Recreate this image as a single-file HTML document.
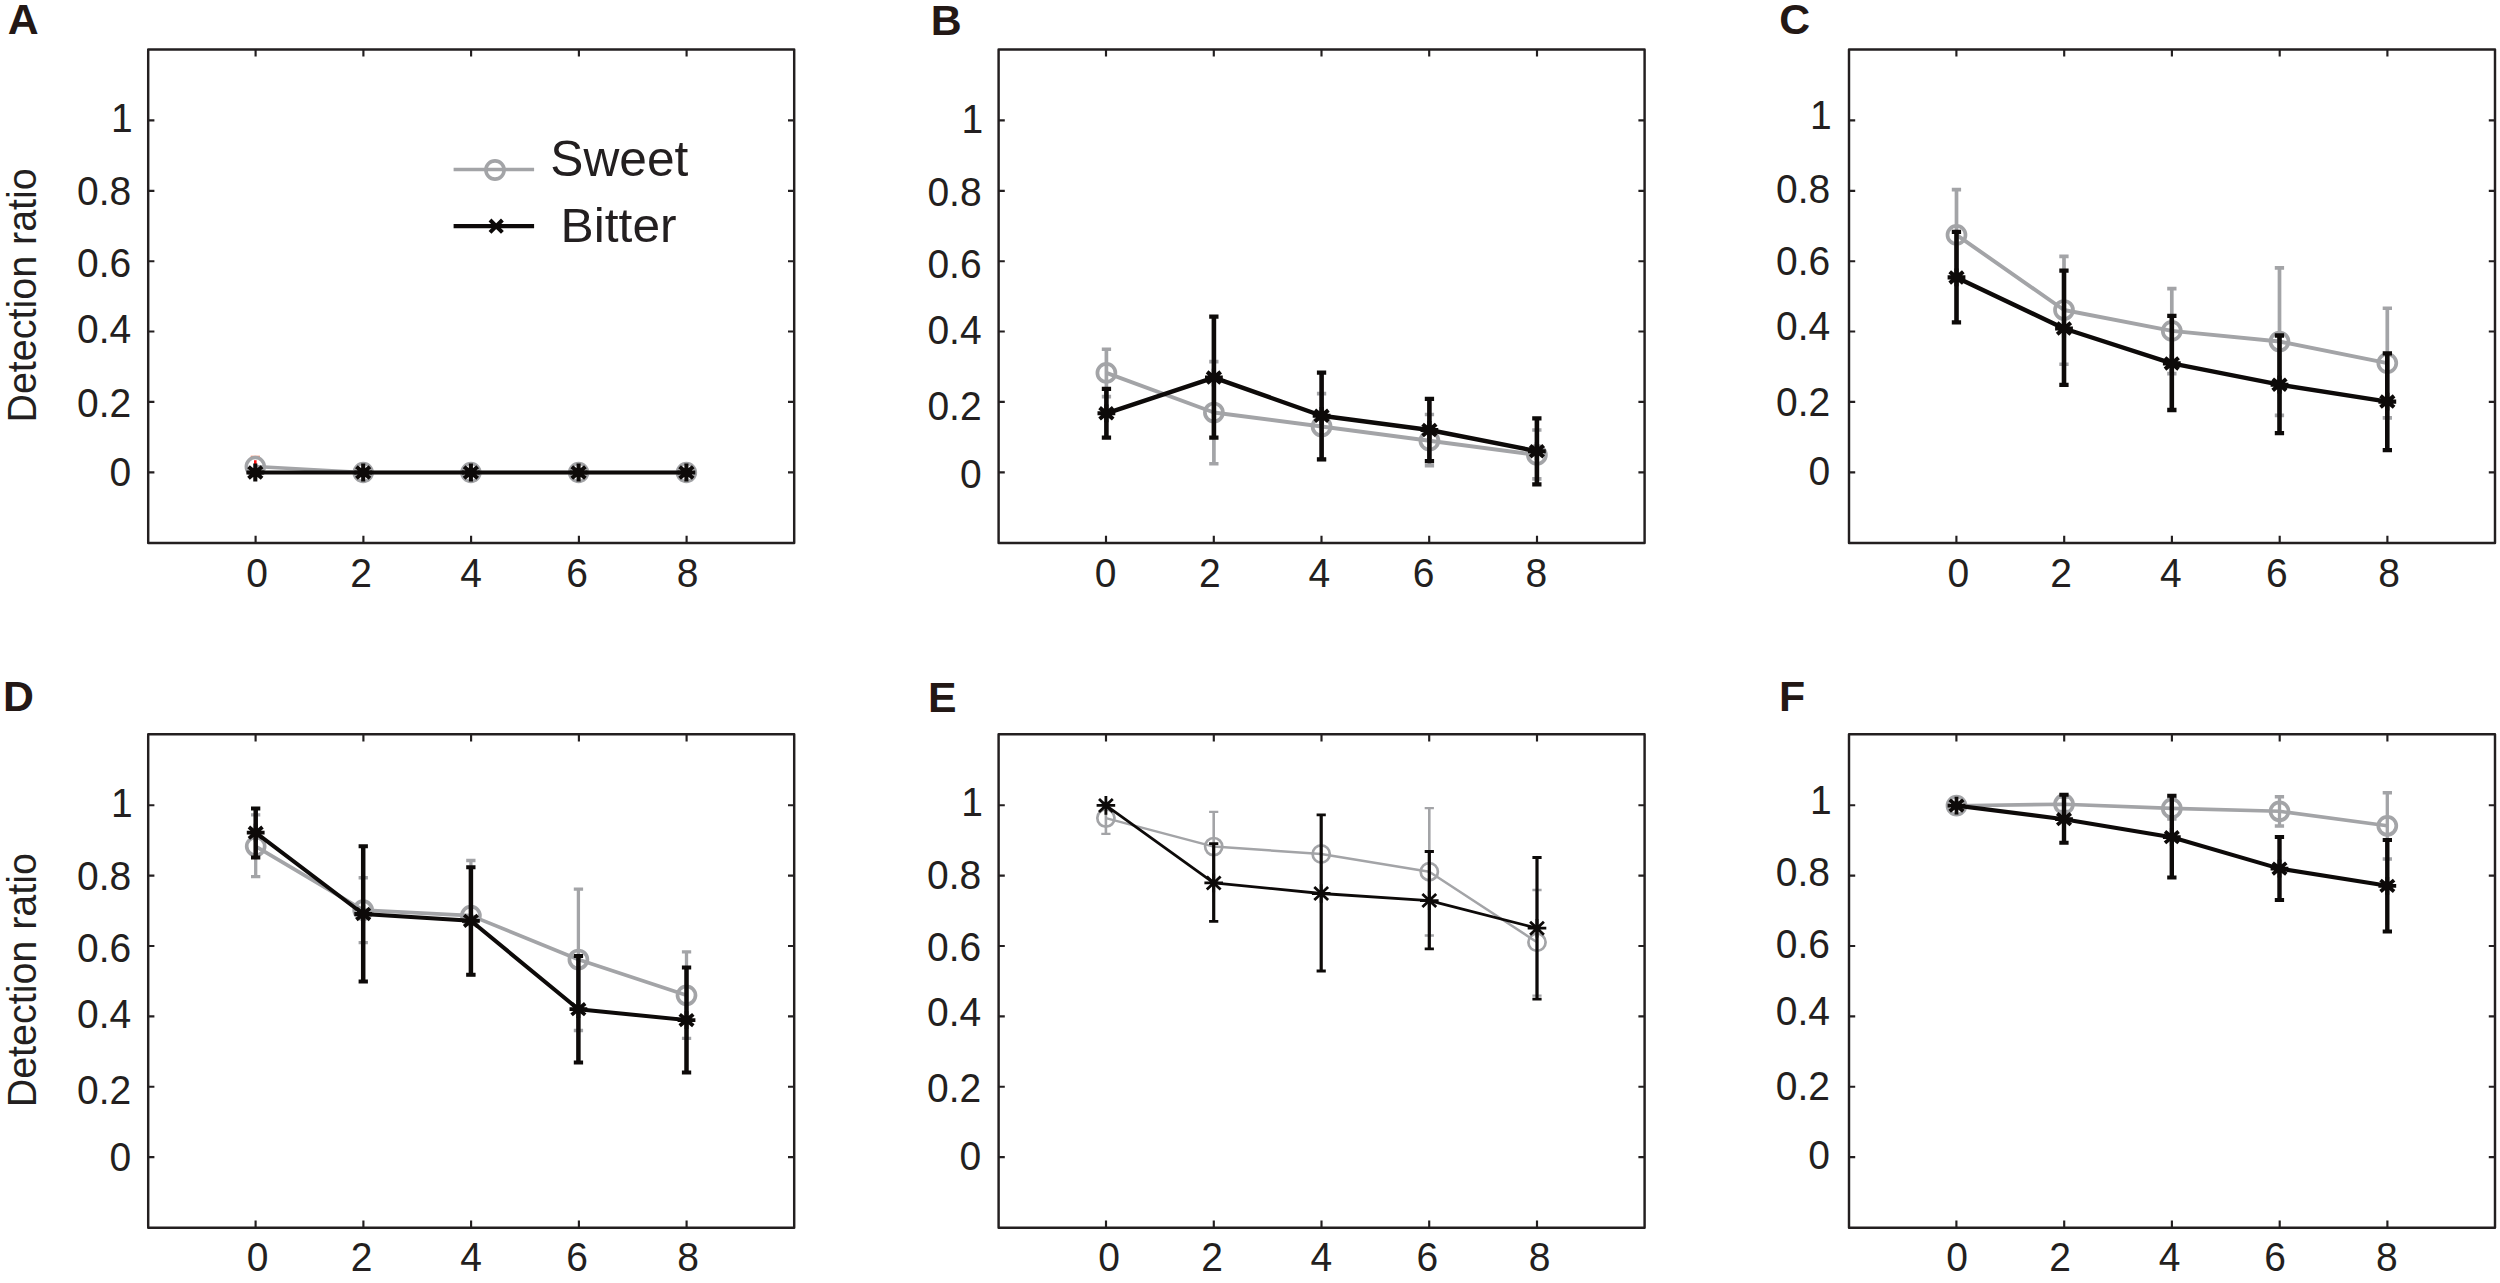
<!DOCTYPE html>
<html lang="en"><head><meta charset="utf-8"><title>Detection ratio – Sweet vs Bitter</title>
<style>html,body{margin:0;padding:0;background:#fff}svg{display:block}</style></head>
<body>
<svg width="2500" height="1283" viewBox="0 0 2500 1283" font-family="'Liberation Sans', Arial, Helvetica, sans-serif" font-size="39.0" fill="#231f20">
<rect width="2500" height="1283" fill="#fff"/>
<rect x="148.2" y="49.4" width="646.0" height="493.6" fill="none" stroke="#231f20" stroke-width="2.45" stroke-linejoin="round"/>
<path d="M255.6 543.0v-7.2M255.6 49.4v7.2M363.4 543.0v-7.2M363.4 49.4v7.2M471.1 543.0v-7.2M471.1 49.4v7.2M578.9 543.0v-7.2M578.9 49.4v7.2M686.6 543.0v-7.2M686.6 49.4v7.2M148.2 472.3h6.2M794.2 472.3h-6.2M148.2 401.9h6.2M794.2 401.9h-6.2M148.2 331.5h6.2M794.2 331.5h-6.2M148.2 261.2h6.2M794.2 261.2h-6.2M148.2 190.8h6.2M794.2 190.8h-6.2M148.2 120.4h6.2M794.2 120.4h-6.2" fill="none" stroke="#231f20" stroke-width="2.15"/>
<text transform="translate(257.2 586.9) scale(1.0 1.05)" text-anchor="middle">0</text>
<text transform="translate(361.0 586.9) scale(1.0 1.05)" text-anchor="middle">2</text>
<text transform="translate(471.1 586.9) scale(1.0 1.05)" text-anchor="middle">4</text>
<text transform="translate(577.0 586.9) scale(1.0 1.05)" text-anchor="middle">6</text>
<text transform="translate(687.7 586.9) scale(1.0 1.05)" text-anchor="middle">8</text>
<text transform="translate(131.2 485.6) scale(1.0 1.05)" text-anchor="end">0</text>
<text transform="translate(131.2 417.2) scale(1.0 1.05)" text-anchor="end">0.2</text>
<text transform="translate(131.2 342.9) scale(1.0 1.05)" text-anchor="end">0.4</text>
<text transform="translate(131.2 276.7) scale(1.0 1.05)" text-anchor="end">0.6</text>
<text transform="translate(131.2 204.8) scale(1.0 1.05)" text-anchor="end">0.8</text>
<text transform="translate(132.8 131.8) scale(1.0 1.05)" text-anchor="end">1</text>
<rect x="998.6" y="49.4" width="646.0" height="493.6" fill="none" stroke="#231f20" stroke-width="2.45" stroke-linejoin="round"/>
<path d="M1106.0 543.0v-7.2M1106.0 49.4v7.2M1213.8 543.0v-7.2M1213.8 49.4v7.2M1321.5 543.0v-7.2M1321.5 49.4v7.2M1429.2 543.0v-7.2M1429.2 49.4v7.2M1537.0 543.0v-7.2M1537.0 49.4v7.2M998.6 472.3h6.2M1644.6 472.3h-6.2M998.6 401.9h6.2M1644.6 401.9h-6.2M998.6 331.5h6.2M1644.6 331.5h-6.2M998.6 261.2h6.2M1644.6 261.2h-6.2M998.6 190.8h6.2M1644.6 190.8h-6.2M998.6 120.4h6.2M1644.6 120.4h-6.2" fill="none" stroke="#231f20" stroke-width="2.15"/>
<text transform="translate(1105.6 586.9) scale(1.0 1.05)" text-anchor="middle">0</text>
<text transform="translate(1209.8 586.9) scale(1.0 1.05)" text-anchor="middle">2</text>
<text transform="translate(1319.4 586.9) scale(1.0 1.05)" text-anchor="middle">4</text>
<text transform="translate(1423.7 586.9) scale(1.0 1.05)" text-anchor="middle">6</text>
<text transform="translate(1536.4 586.9) scale(1.0 1.05)" text-anchor="middle">8</text>
<text transform="translate(981.6 488.1) scale(1.0 1.05)" text-anchor="end">0</text>
<text transform="translate(981.6 419.7) scale(1.0 1.05)" text-anchor="end">0.2</text>
<text transform="translate(981.6 343.7) scale(1.0 1.05)" text-anchor="end">0.4</text>
<text transform="translate(981.6 277.8) scale(1.0 1.05)" text-anchor="end">0.6</text>
<text transform="translate(981.6 205.9) scale(1.0 1.05)" text-anchor="end">0.8</text>
<text transform="translate(983.2 133.4) scale(1.0 1.05)" text-anchor="end">1</text>
<rect x="1849.0" y="49.4" width="646.0" height="493.6" fill="none" stroke="#231f20" stroke-width="2.45" stroke-linejoin="round"/>
<path d="M1956.4 543.0v-7.2M1956.4 49.4v7.2M2064.2 543.0v-7.2M2064.2 49.4v7.2M2171.9 543.0v-7.2M2171.9 49.4v7.2M2279.7 543.0v-7.2M2279.7 49.4v7.2M2387.4 543.0v-7.2M2387.4 49.4v7.2M1849.0 472.3h6.2M2495.0 472.3h-6.2M1849.0 401.9h6.2M2495.0 401.9h-6.2M1849.0 331.5h6.2M2495.0 331.5h-6.2M1849.0 261.2h6.2M2495.0 261.2h-6.2M1849.0 190.8h6.2M2495.0 190.8h-6.2M1849.0 120.4h6.2M2495.0 120.4h-6.2" fill="none" stroke="#231f20" stroke-width="2.15"/>
<text transform="translate(1958.3 586.9) scale(1.0 1.05)" text-anchor="middle">0</text>
<text transform="translate(2061.2 586.9) scale(1.0 1.05)" text-anchor="middle">2</text>
<text transform="translate(2170.9 586.9) scale(1.0 1.05)" text-anchor="middle">4</text>
<text transform="translate(2276.8 586.9) scale(1.0 1.05)" text-anchor="middle">6</text>
<text transform="translate(2389.0 586.9) scale(1.0 1.05)" text-anchor="middle">8</text>
<text transform="translate(1830.2 484.8) scale(1.0 1.05)" text-anchor="end">0</text>
<text transform="translate(1830.2 416.4) scale(1.0 1.05)" text-anchor="end">0.2</text>
<text transform="translate(1830.2 340.4) scale(1.0 1.05)" text-anchor="end">0.4</text>
<text transform="translate(1830.2 275.4) scale(1.0 1.05)" text-anchor="end">0.6</text>
<text transform="translate(1830.2 203.2) scale(1.0 1.05)" text-anchor="end">0.8</text>
<text transform="translate(1831.8 129.3) scale(1.0 1.05)" text-anchor="end">1</text>
<rect x="148.2" y="734.2" width="646.0" height="493.6" fill="none" stroke="#231f20" stroke-width="2.45" stroke-linejoin="round"/>
<path d="M255.6 1227.8v-7.2M255.6 734.2v7.2M363.4 1227.8v-7.2M363.4 734.2v7.2M471.1 1227.8v-7.2M471.1 734.2v7.2M578.9 1227.8v-7.2M578.9 734.2v7.2M686.6 1227.8v-7.2M686.6 734.2v7.2M148.2 1157.1h6.2M794.2 1157.1h-6.2M148.2 1086.7h6.2M794.2 1086.7h-6.2M148.2 1016.3h6.2M794.2 1016.3h-6.2M148.2 946.0h6.2M794.2 946.0h-6.2M148.2 875.6h6.2M794.2 875.6h-6.2M148.2 805.2h6.2M794.2 805.2h-6.2" fill="none" stroke="#231f20" stroke-width="2.15"/>
<text transform="translate(257.7 1271.3) scale(1.0 1.05)" text-anchor="middle">0</text>
<text transform="translate(361.7 1271.3) scale(1.0 1.05)" text-anchor="middle">2</text>
<text transform="translate(471.2 1271.3) scale(1.0 1.05)" text-anchor="middle">4</text>
<text transform="translate(577.2 1271.3) scale(1.0 1.05)" text-anchor="middle">6</text>
<text transform="translate(688.0 1271.3) scale(1.0 1.05)" text-anchor="middle">8</text>
<text transform="translate(131.2 1171.1) scale(1.0 1.05)" text-anchor="end">0</text>
<text transform="translate(131.2 1103.8) scale(1.0 1.05)" text-anchor="end">0.2</text>
<text transform="translate(131.2 1028.2) scale(1.0 1.05)" text-anchor="end">0.4</text>
<text transform="translate(131.2 961.5) scale(1.0 1.05)" text-anchor="end">0.6</text>
<text transform="translate(131.2 889.9) scale(1.0 1.05)" text-anchor="end">0.8</text>
<text transform="translate(132.8 816.9) scale(1.0 1.05)" text-anchor="end">1</text>
<rect x="998.6" y="734.2" width="646.0" height="493.6" fill="none" stroke="#231f20" stroke-width="2.45" stroke-linejoin="round"/>
<path d="M1106.0 1227.8v-7.2M1106.0 734.2v7.2M1213.8 1227.8v-7.2M1213.8 734.2v7.2M1321.5 1227.8v-7.2M1321.5 734.2v7.2M1429.2 1227.8v-7.2M1429.2 734.2v7.2M1537.0 1227.8v-7.2M1537.0 734.2v7.2M998.6 1157.1h6.2M1644.6 1157.1h-6.2M998.6 1086.7h6.2M1644.6 1086.7h-6.2M998.6 1016.3h6.2M1644.6 1016.3h-6.2M998.6 946.0h6.2M1644.6 946.0h-6.2M998.6 875.6h6.2M1644.6 875.6h-6.2M998.6 805.2h6.2M1644.6 805.2h-6.2" fill="none" stroke="#231f20" stroke-width="2.15"/>
<text transform="translate(1109.0 1271.3) scale(1.0 1.05)" text-anchor="middle">0</text>
<text transform="translate(1212.2 1271.3) scale(1.0 1.05)" text-anchor="middle">2</text>
<text transform="translate(1321.4 1271.3) scale(1.0 1.05)" text-anchor="middle">4</text>
<text transform="translate(1427.3 1271.3) scale(1.0 1.05)" text-anchor="middle">6</text>
<text transform="translate(1539.6 1271.3) scale(1.0 1.05)" text-anchor="middle">8</text>
<text transform="translate(981.3 1169.8) scale(1.0 1.05)" text-anchor="end">0</text>
<text transform="translate(981.3 1101.5) scale(1.0 1.05)" text-anchor="end">0.2</text>
<text transform="translate(981.3 1025.7) scale(1.0 1.05)" text-anchor="end">0.4</text>
<text transform="translate(981.3 960.7) scale(1.0 1.05)" text-anchor="end">0.6</text>
<text transform="translate(981.3 888.6) scale(1.0 1.05)" text-anchor="end">0.8</text>
<text transform="translate(982.9 816.1) scale(1.0 1.05)" text-anchor="end">1</text>
<rect x="1849.0" y="734.2" width="646.0" height="493.6" fill="none" stroke="#231f20" stroke-width="2.45" stroke-linejoin="round"/>
<path d="M1956.4 1227.8v-7.2M1956.4 734.2v7.2M2064.2 1227.8v-7.2M2064.2 734.2v7.2M2171.9 1227.8v-7.2M2171.9 734.2v7.2M2279.7 1227.8v-7.2M2279.7 734.2v7.2M2387.4 1227.8v-7.2M2387.4 734.2v7.2M1849.0 1157.1h6.2M2495.0 1157.1h-6.2M1849.0 1086.7h6.2M2495.0 1086.7h-6.2M1849.0 1016.3h6.2M2495.0 1016.3h-6.2M1849.0 946.0h6.2M2495.0 946.0h-6.2M1849.0 875.6h6.2M2495.0 875.6h-6.2M1849.0 805.2h6.2M2495.0 805.2h-6.2" fill="none" stroke="#231f20" stroke-width="2.15"/>
<text transform="translate(1957.0 1271.3) scale(1.0 1.05)" text-anchor="middle">0</text>
<text transform="translate(2060.0 1271.3) scale(1.0 1.05)" text-anchor="middle">2</text>
<text transform="translate(2169.6 1271.3) scale(1.0 1.05)" text-anchor="middle">4</text>
<text transform="translate(2275.1 1271.3) scale(1.0 1.05)" text-anchor="middle">6</text>
<text transform="translate(2386.8 1271.3) scale(1.0 1.05)" text-anchor="middle">8</text>
<text transform="translate(1830.0 1168.5) scale(1.0 1.05)" text-anchor="end">0</text>
<text transform="translate(1830.0 1100.2) scale(1.0 1.05)" text-anchor="end">0.2</text>
<text transform="translate(1830.0 1024.6) scale(1.0 1.05)" text-anchor="end">0.4</text>
<text transform="translate(1830.0 958.0) scale(1.0 1.05)" text-anchor="end">0.6</text>
<text transform="translate(1830.0 886.3) scale(1.0 1.05)" text-anchor="end">0.8</text>
<text transform="translate(1831.6 813.6) scale(1.0 1.05)" text-anchor="end">1</text>
<text transform="translate(7.8 34.1)" font-size="42.8" font-weight="bold" fill="#231815">A</text>
<text transform="translate(930.8 34.5)" font-size="42.8" font-weight="bold" fill="#231815">B</text>
<text transform="translate(1779.2 34.3)" font-size="42.8" font-weight="bold" fill="#231815">C</text>
<text transform="translate(3.1 711.2)" font-size="42.8" font-weight="bold" fill="#231815">D</text>
<text transform="translate(928.0 711.6)" font-size="42.8" font-weight="bold" fill="#231815">E</text>
<text transform="translate(1779.1 711.2)" font-size="42.8" font-weight="bold" fill="#231815">F</text>
<text transform="translate(36.1 295.4) rotate(-90) scale(1 1.03)" text-anchor="middle" font-size="39.45">Detection ratio</text>
<text transform="translate(36.1 980.2) rotate(-90) scale(1 1.03)" text-anchor="middle" font-size="39.45">Detection ratio</text>
<path d="M453.6 169.5H534.1" stroke="#a3a4a7" stroke-width="3.6"/>
<circle cx="495.0" cy="170.0" r="9.1" fill="none" stroke="#a3a4a7" stroke-width="3.6"/>
<path d="M453.6 226.1H534.1" stroke="#0d0a09" stroke-width="4.1"/>
<path d="M490.0 220.0l12.4 12.4M490.0 232.4l12.4 -12.4" stroke="#0d0a09" stroke-width="4.0" fill="none"/>
<text transform="translate(550.3 176.3) scale(1.0 1.005)" font-size="49.7">Sweet</text>
<text transform="translate(560.6 242.3) scale(1.0 0.985)" font-size="49.7">Bitter</text>
<polyline points="255.3,466.6 363.2,472.5 470.9,472.5 578.6,472.5 686.4,472.5" fill="none" stroke="#a3a4a7" stroke-width="3.5" stroke-linejoin="round"/>
<path d="M250.7 456.3h9.2" stroke="#f58466" stroke-width="1.2"/>
<circle cx="255.3" cy="466.6" r="9.0" fill="none" stroke="#a3a4a7" stroke-width="3.5"/>
<circle cx="363.2" cy="472.5" r="9.0" fill="none" stroke="#a3a4a7" stroke-width="3.5"/>
<circle cx="470.9" cy="472.5" r="9.0" fill="none" stroke="#a3a4a7" stroke-width="3.5"/>
<circle cx="578.6" cy="472.5" r="9.0" fill="none" stroke="#a3a4a7" stroke-width="3.5"/>
<circle cx="686.4" cy="472.5" r="9.0" fill="none" stroke="#a3a4a7" stroke-width="3.5"/>
<path d="M255.3 460.2V464.6" stroke="#ff1414" stroke-width="2.6"/>
<polyline points="255.3,472.5 363.2,472.5 470.9,472.5 578.6,472.5 686.4,472.5" fill="none" stroke="#0d0a09" stroke-width="4.2" stroke-linejoin="round"/>
<path d="M246.4 472.5h17.8M255.3 463.6v17.8M248.5 466.8l13.6 11.4M248.5 478.2l13.6 -11.4" stroke="#0d0a09" stroke-width="4.1" fill="none"/>
<path d="M354.3 472.5h17.8M363.2 463.6v17.8M356.4 466.8l13.6 11.4M356.4 478.2l13.6 -11.4" stroke="#0d0a09" stroke-width="4.1" fill="none"/>
<path d="M462.0 472.5h17.8M470.9 463.6v17.8M464.1 466.8l13.6 11.4M464.1 478.2l13.6 -11.4" stroke="#0d0a09" stroke-width="4.1" fill="none"/>
<path d="M569.7 472.5h17.8M578.6 463.6v17.8M571.8 466.8l13.6 11.4M571.8 478.2l13.6 -11.4" stroke="#0d0a09" stroke-width="4.1" fill="none"/>
<path d="M677.5 472.5h17.8M686.4 463.6v17.8M679.6 466.8l13.6 11.4M679.6 478.2l13.6 -11.4" stroke="#0d0a09" stroke-width="4.1" fill="none"/>
<path d="M1106.4 349.2V396.6" stroke="#a3a4a7" stroke-width="3.7" fill="none"/>
<path d="M1101.8 349.2h9.3M1101.8 396.6h9.3" stroke="#a3a4a7" stroke-width="3.6" fill="none"/>
<path d="M1213.9 361.6V463.7" stroke="#a3a4a7" stroke-width="3.7" fill="none"/>
<path d="M1209.2 361.6h9.3M1209.2 463.7h9.3" stroke="#a3a4a7" stroke-width="3.6" fill="none"/>
<path d="M1321.6 393.6V459.4" stroke="#a3a4a7" stroke-width="3.7" fill="none"/>
<path d="M1316.9 393.6h9.3M1316.9 459.4h9.3" stroke="#a3a4a7" stroke-width="3.6" fill="none"/>
<path d="M1429.4 414.5V465.6" stroke="#a3a4a7" stroke-width="3.7" fill="none"/>
<path d="M1424.8 414.5h9.3M1424.8 465.6h9.3" stroke="#a3a4a7" stroke-width="3.6" fill="none"/>
<path d="M1536.9 430.0V478.9" stroke="#a3a4a7" stroke-width="3.7" fill="none"/>
<path d="M1532.2 430.0h9.3M1532.2 478.9h9.3" stroke="#a3a4a7" stroke-width="3.6" fill="none"/>
<polyline points="1106.4,372.9 1213.9,412.5 1321.6,426.5 1429.4,440.7 1536.9,454.9" fill="none" stroke="#a3a4a7" stroke-width="3.9" stroke-linejoin="round"/>
<circle cx="1106.4" cy="372.9" r="9.0" fill="none" stroke="#a3a4a7" stroke-width="3.7"/>
<circle cx="1213.9" cy="412.5" r="9.0" fill="none" stroke="#a3a4a7" stroke-width="3.7"/>
<circle cx="1321.6" cy="426.5" r="9.0" fill="none" stroke="#a3a4a7" stroke-width="3.7"/>
<circle cx="1429.4" cy="440.7" r="9.0" fill="none" stroke="#a3a4a7" stroke-width="3.7"/>
<circle cx="1536.9" cy="454.9" r="9.0" fill="none" stroke="#a3a4a7" stroke-width="3.7"/>
<path d="M1106.4 388.8V437.7" stroke="#0d0a09" stroke-width="4.6" fill="none"/>
<path d="M1101.8 388.8h9.3M1101.8 437.7h9.3" stroke="#0d0a09" stroke-width="4.3" fill="none"/>
<path d="M1213.9 316.7V437.7" stroke="#0d0a09" stroke-width="4.6" fill="none"/>
<path d="M1209.2 316.7h9.3M1209.2 437.7h9.3" stroke="#0d0a09" stroke-width="4.3" fill="none"/>
<path d="M1321.6 372.6V459.4" stroke="#0d0a09" stroke-width="4.6" fill="none"/>
<path d="M1316.9 372.6h9.3M1316.9 459.4h9.3" stroke="#0d0a09" stroke-width="4.3" fill="none"/>
<path d="M1429.4 398.8V461.2" stroke="#0d0a09" stroke-width="4.6" fill="none"/>
<path d="M1424.8 398.8h9.3M1424.8 461.2h9.3" stroke="#0d0a09" stroke-width="4.3" fill="none"/>
<path d="M1536.9 418.3V484.4" stroke="#0d0a09" stroke-width="4.6" fill="none"/>
<path d="M1532.2 418.3h9.3M1532.2 484.4h9.3" stroke="#0d0a09" stroke-width="4.3" fill="none"/>
<polyline points="1106.4,413.3 1213.9,377.6 1321.6,415.8 1429.4,430.0 1536.9,451.2" fill="none" stroke="#0d0a09" stroke-width="4.4" stroke-linejoin="round"/>
<path d="M1097.5 413.3h17.8M1106.4 404.4v17.8M1099.6 407.6l13.6 11.4M1099.6 419.0l13.6 -11.4" stroke="#0d0a09" stroke-width="4.1" fill="none"/>
<path d="M1205.0 377.6h17.8M1213.9 368.7v17.8M1207.1 371.9l13.6 11.4M1207.1 383.3l13.6 -11.4" stroke="#0d0a09" stroke-width="4.1" fill="none"/>
<path d="M1312.7 415.8h17.8M1321.6 406.9v17.8M1314.8 410.1l13.6 11.4M1314.8 421.5l13.6 -11.4" stroke="#0d0a09" stroke-width="4.1" fill="none"/>
<path d="M1420.5 430.0h17.8M1429.4 421.1v17.8M1422.6 424.3l13.6 11.4M1422.6 435.7l13.6 -11.4" stroke="#0d0a09" stroke-width="4.1" fill="none"/>
<path d="M1528.0 451.2h17.8M1536.9 442.3v17.8M1530.1 445.5l13.6 11.4M1530.1 456.9l13.6 -11.4" stroke="#0d0a09" stroke-width="4.1" fill="none"/>
<path d="M1956.5 189.6V280.2" stroke="#a3a4a7" stroke-width="3.7" fill="none"/>
<path d="M1951.8 189.6h9.3M1951.8 280.2h9.3" stroke="#a3a4a7" stroke-width="3.6" fill="none"/>
<path d="M2064.0 256.4V364.2" stroke="#a3a4a7" stroke-width="3.7" fill="none"/>
<path d="M2059.3 256.4h9.3M2059.3 364.2h9.3" stroke="#a3a4a7" stroke-width="3.6" fill="none"/>
<path d="M2171.8 288.6V373.6" stroke="#a3a4a7" stroke-width="3.7" fill="none"/>
<path d="M2167.2 288.6h9.3M2167.2 373.6h9.3" stroke="#a3a4a7" stroke-width="3.6" fill="none"/>
<path d="M2279.5 267.9V415.4" stroke="#a3a4a7" stroke-width="3.7" fill="none"/>
<path d="M2274.8 267.9h9.3M2274.8 415.4h9.3" stroke="#a3a4a7" stroke-width="3.6" fill="none"/>
<path d="M2387.3 308.3V417.9" stroke="#a3a4a7" stroke-width="3.7" fill="none"/>
<path d="M2382.7 308.3h9.3M2382.7 417.9h9.3" stroke="#a3a4a7" stroke-width="3.6" fill="none"/>
<polyline points="1956.5,234.9 2064.0,310.0 2171.8,330.9 2279.5,341.5 2387.3,363.1" fill="none" stroke="#a3a4a7" stroke-width="3.9" stroke-linejoin="round"/>
<circle cx="1956.5" cy="234.9" r="9.0" fill="none" stroke="#a3a4a7" stroke-width="3.7"/>
<circle cx="2064.0" cy="310.0" r="9.0" fill="none" stroke="#a3a4a7" stroke-width="3.7"/>
<circle cx="2171.8" cy="330.9" r="9.0" fill="none" stroke="#a3a4a7" stroke-width="3.7"/>
<circle cx="2279.5" cy="341.5" r="9.0" fill="none" stroke="#a3a4a7" stroke-width="3.7"/>
<circle cx="2387.3" cy="363.1" r="9.0" fill="none" stroke="#a3a4a7" stroke-width="3.7"/>
<path d="M1956.5 231.9V322.4" stroke="#0d0a09" stroke-width="4.6" fill="none"/>
<path d="M1951.8 231.9h9.3M1951.8 322.4h9.3" stroke="#0d0a09" stroke-width="4.3" fill="none"/>
<path d="M2064.0 270.7V384.9" stroke="#0d0a09" stroke-width="4.6" fill="none"/>
<path d="M2059.3 270.7h9.3M2059.3 384.9h9.3" stroke="#0d0a09" stroke-width="4.3" fill="none"/>
<path d="M2171.8 315.9V410.0" stroke="#0d0a09" stroke-width="4.6" fill="none"/>
<path d="M2167.2 315.9h9.3M2167.2 410.0h9.3" stroke="#0d0a09" stroke-width="4.3" fill="none"/>
<path d="M2279.5 335.5V433.2" stroke="#0d0a09" stroke-width="4.6" fill="none"/>
<path d="M2274.8 335.5h9.3M2274.8 433.2h9.3" stroke="#0d0a09" stroke-width="4.3" fill="none"/>
<path d="M2387.3 353.3V450.1" stroke="#0d0a09" stroke-width="4.6" fill="none"/>
<path d="M2382.7 353.3h9.3M2382.7 450.1h9.3" stroke="#0d0a09" stroke-width="4.3" fill="none"/>
<polyline points="1956.5,277.4 2064.0,328.5 2171.8,363.4 2279.5,384.7 2387.3,401.6" fill="none" stroke="#0d0a09" stroke-width="4.4" stroke-linejoin="round"/>
<path d="M1947.6 277.4h17.8M1956.5 268.5v17.8M1949.7 271.7l13.6 11.4M1949.7 283.1l13.6 -11.4" stroke="#0d0a09" stroke-width="4.1" fill="none"/>
<path d="M2055.1 328.5h17.8M2064.0 319.6v17.8M2057.2 322.8l13.6 11.4M2057.2 334.2l13.6 -11.4" stroke="#0d0a09" stroke-width="4.1" fill="none"/>
<path d="M2162.9 363.4h17.8M2171.8 354.5v17.8M2165.0 357.7l13.6 11.4M2165.0 369.1l13.6 -11.4" stroke="#0d0a09" stroke-width="4.1" fill="none"/>
<path d="M2270.6 384.7h17.8M2279.5 375.8v17.8M2272.7 379.0l13.6 11.4M2272.7 390.4l13.6 -11.4" stroke="#0d0a09" stroke-width="4.1" fill="none"/>
<path d="M2378.4 401.6h17.8M2387.3 392.7v17.8M2380.5 395.9l13.6 11.4M2380.5 407.3l13.6 -11.4" stroke="#0d0a09" stroke-width="4.1" fill="none"/>
<path d="M255.7 814.9V876.6" stroke="#a3a4a7" stroke-width="3.3" fill="none"/>
<path d="M251.0 814.9h9.3M251.0 876.6h9.3" stroke="#a3a4a7" stroke-width="3.4" fill="none"/>
<path d="M363.2 877.7V942.6" stroke="#a3a4a7" stroke-width="3.3" fill="none"/>
<path d="M358.6 877.7h9.3M358.6 942.6h9.3" stroke="#a3a4a7" stroke-width="3.4" fill="none"/>
<path d="M470.9 860.5V974.8" stroke="#a3a4a7" stroke-width="3.3" fill="none"/>
<path d="M466.2 860.5h9.3M466.2 974.8h9.3" stroke="#a3a4a7" stroke-width="3.4" fill="none"/>
<path d="M578.4 889.1V1030.5" stroke="#a3a4a7" stroke-width="3.3" fill="none"/>
<path d="M573.8 889.1h9.3M573.8 1030.5h9.3" stroke="#a3a4a7" stroke-width="3.4" fill="none"/>
<path d="M686.5 951.9V1038.4" stroke="#a3a4a7" stroke-width="3.3" fill="none"/>
<path d="M681.9 951.9h9.3M681.9 1038.4h9.3" stroke="#a3a4a7" stroke-width="3.4" fill="none"/>
<polyline points="255.7,846.3 363.2,910.2 470.9,915.6 578.4,959.5 686.5,995.3" fill="none" stroke="#a3a4a7" stroke-width="3.7" stroke-linejoin="round"/>
<circle cx="255.7" cy="846.3" r="9.0" fill="none" stroke="#a3a4a7" stroke-width="3.7"/>
<circle cx="363.2" cy="910.2" r="9.0" fill="none" stroke="#a3a4a7" stroke-width="3.7"/>
<circle cx="470.9" cy="915.6" r="9.0" fill="none" stroke="#a3a4a7" stroke-width="3.7"/>
<circle cx="578.4" cy="959.5" r="9.0" fill="none" stroke="#a3a4a7" stroke-width="3.7"/>
<circle cx="686.5" cy="995.3" r="9.0" fill="none" stroke="#a3a4a7" stroke-width="3.7"/>
<path d="M255.7 808.4V857.5" stroke="#0d0a09" stroke-width="4.5" fill="none"/>
<path d="M251.0 808.4h9.3M251.0 857.5h9.3" stroke="#0d0a09" stroke-width="4.0" fill="none"/>
<path d="M363.2 846.3V981.4" stroke="#0d0a09" stroke-width="4.5" fill="none"/>
<path d="M358.6 846.3h9.3M358.6 981.4h9.3" stroke="#0d0a09" stroke-width="4.0" fill="none"/>
<path d="M470.9 867.3V974.8" stroke="#0d0a09" stroke-width="4.5" fill="none"/>
<path d="M466.2 867.3h9.3M466.2 974.8h9.3" stroke="#0d0a09" stroke-width="4.0" fill="none"/>
<path d="M578.4 956.0V1062.4" stroke="#0d0a09" stroke-width="4.5" fill="none"/>
<path d="M573.8 956.0h9.3M573.8 1062.4h9.3" stroke="#0d0a09" stroke-width="4.0" fill="none"/>
<path d="M686.5 967.5V1072.5" stroke="#0d0a09" stroke-width="4.5" fill="none"/>
<path d="M681.9 967.5h9.3M681.9 1072.5h9.3" stroke="#0d0a09" stroke-width="4.0" fill="none"/>
<polyline points="255.7,832.7 363.2,914.0 470.9,920.8 578.4,1009.2 686.5,1020.1" fill="none" stroke="#0d0a09" stroke-width="4.0" stroke-linejoin="round"/>
<path d="M246.8 832.7h17.8M255.7 823.8v17.8M248.9 827.0l13.6 11.4M248.9 838.4l13.6 -11.4" stroke="#0d0a09" stroke-width="3.8" fill="none"/>
<path d="M354.3 914.0h17.8M363.2 905.1v17.8M356.4 908.3l13.6 11.4M356.4 919.7l13.6 -11.4" stroke="#0d0a09" stroke-width="3.8" fill="none"/>
<path d="M462.0 920.8h17.8M470.9 911.9v17.8M464.1 915.1l13.6 11.4M464.1 926.5l13.6 -11.4" stroke="#0d0a09" stroke-width="3.8" fill="none"/>
<path d="M569.5 1009.2h17.8M578.4 1000.3v17.8M571.6 1003.5l13.6 11.4M571.6 1014.9l13.6 -11.4" stroke="#0d0a09" stroke-width="3.8" fill="none"/>
<path d="M677.6 1020.1h17.8M686.5 1011.2v17.8M679.7 1014.4l13.6 11.4M679.7 1025.8l13.6 -11.4" stroke="#0d0a09" stroke-width="3.8" fill="none"/>
<path d="M1105.9 802.6V833.8" stroke="#a3a4a7" stroke-width="2.6" fill="none"/>
<path d="M1101.3 802.6h9.2M1101.3 833.8h9.2" stroke="#a3a4a7" stroke-width="2.3" fill="none"/>
<path d="M1213.7 811.9V881.3" stroke="#a3a4a7" stroke-width="2.6" fill="none"/>
<path d="M1209.1 811.9h9.2M1209.1 881.3h9.2" stroke="#a3a4a7" stroke-width="2.3" fill="none"/>
<path d="M1429.3 808.1V935.5" stroke="#a3a4a7" stroke-width="2.6" fill="none"/>
<path d="M1424.7 808.1h9.2M1424.7 935.5h9.2" stroke="#a3a4a7" stroke-width="2.3" fill="none"/>
<path d="M1537.0 890.0V995.6" stroke="#a3a4a7" stroke-width="2.6" fill="none"/>
<path d="M1532.4 890.0h9.2M1532.4 995.6h9.2" stroke="#a3a4a7" stroke-width="2.3" fill="none"/>
<polyline points="1105.9,818.1 1213.7,846.6 1321.2,854.0 1429.3,871.7 1537.0,942.3" fill="none" stroke="#a3a4a7" stroke-width="2.5" stroke-linejoin="round"/>
<circle cx="1105.9" cy="818.1" r="8.6" fill="none" stroke="#a3a4a7" stroke-width="2.7"/>
<circle cx="1213.7" cy="846.6" r="8.6" fill="none" stroke="#a3a4a7" stroke-width="2.7"/>
<circle cx="1321.2" cy="854.0" r="8.6" fill="none" stroke="#a3a4a7" stroke-width="2.7"/>
<circle cx="1429.3" cy="871.7" r="8.6" fill="none" stroke="#a3a4a7" stroke-width="2.7"/>
<circle cx="1537.0" cy="942.3" r="8.6" fill="none" stroke="#a3a4a7" stroke-width="2.7"/>
<path d="M1213.7 843.6V921.3" stroke="#0d0a09" stroke-width="3.2" fill="none"/>
<path d="M1209.1 843.6h9.2M1209.1 921.3h9.2" stroke="#0d0a09" stroke-width="2.8" fill="none"/>
<path d="M1321.2 814.9V971.0" stroke="#0d0a09" stroke-width="3.2" fill="none"/>
<path d="M1316.6 814.9h9.2M1316.6 971.0h9.2" stroke="#0d0a09" stroke-width="2.8" fill="none"/>
<path d="M1429.3 851.5V948.9" stroke="#0d0a09" stroke-width="3.2" fill="none"/>
<path d="M1424.7 851.5h9.2M1424.7 948.9h9.2" stroke="#0d0a09" stroke-width="2.8" fill="none"/>
<path d="M1537.0 857.5V999.1" stroke="#0d0a09" stroke-width="3.2" fill="none"/>
<path d="M1532.4 857.5h9.2M1532.4 999.1h9.2" stroke="#0d0a09" stroke-width="2.8" fill="none"/>
<polyline points="1105.9,805.4 1213.7,882.9 1321.2,893.5 1429.3,900.6 1537.0,928.2" fill="none" stroke="#0d0a09" stroke-width="2.8" stroke-linejoin="round"/>
<path d="M1096.6 805.4h18.6M1105.9 796.1v18.6M1099.0 798.9l13.8 13.0M1099.0 811.9l13.8 -13.0" stroke="#0d0a09" stroke-width="2.8" fill="none"/>
<path d="M1204.4 882.9h18.6M1213.7 873.6v18.6M1206.8 876.4l13.8 13.0M1206.8 889.4l13.8 -13.0" stroke="#0d0a09" stroke-width="2.8" fill="none"/>
<path d="M1311.9 893.5h18.6M1321.2 884.2v18.6M1314.3 887.0l13.8 13.0M1314.3 900.0l13.8 -13.0" stroke="#0d0a09" stroke-width="2.8" fill="none"/>
<path d="M1420.0 900.6h18.6M1429.3 891.3v18.6M1422.4 894.1l13.8 13.0M1422.4 907.1l13.8 -13.0" stroke="#0d0a09" stroke-width="2.8" fill="none"/>
<path d="M1527.7 928.2h18.6M1537.0 918.9v18.6M1530.1 921.7l13.8 13.0M1530.1 934.7l13.8 -13.0" stroke="#0d0a09" stroke-width="2.8" fill="none"/>
<path d="M2064.0 797.0V811.4" stroke="#a3a4a7" stroke-width="3.3" fill="none"/>
<path d="M2059.3 797.0h9.3M2059.3 811.4h9.3" stroke="#a3a4a7" stroke-width="3.4" fill="none"/>
<path d="M2171.8 799.0V819.0" stroke="#a3a4a7" stroke-width="3.3" fill="none"/>
<path d="M2167.2 799.0h9.3M2167.2 819.0h9.3" stroke="#a3a4a7" stroke-width="3.4" fill="none"/>
<path d="M2279.5 796.8V826.0" stroke="#a3a4a7" stroke-width="3.3" fill="none"/>
<path d="M2274.8 796.8h9.3M2274.8 826.0h9.3" stroke="#a3a4a7" stroke-width="3.4" fill="none"/>
<path d="M2387.3 792.7V859.0" stroke="#a3a4a7" stroke-width="3.3" fill="none"/>
<path d="M2382.7 792.7h9.3M2382.7 859.0h9.3" stroke="#a3a4a7" stroke-width="3.4" fill="none"/>
<polyline points="1956.5,805.7 2064.0,804.2 2171.8,808.4 2279.5,811.3 2387.3,825.8" fill="none" stroke="#a3a4a7" stroke-width="3.6" stroke-linejoin="round"/>
<circle cx="1956.5" cy="805.7" r="9.0" fill="none" stroke="#a3a4a7" stroke-width="3.7"/>
<circle cx="2064.0" cy="804.2" r="9.0" fill="none" stroke="#a3a4a7" stroke-width="3.7"/>
<circle cx="2171.8" cy="808.4" r="9.0" fill="none" stroke="#a3a4a7" stroke-width="3.7"/>
<circle cx="2279.5" cy="811.3" r="9.0" fill="none" stroke="#a3a4a7" stroke-width="3.7"/>
<circle cx="2387.3" cy="825.8" r="9.0" fill="none" stroke="#a3a4a7" stroke-width="3.7"/>
<path d="M2064.0 794.7V842.7" stroke="#0d0a09" stroke-width="4.4" fill="none"/>
<path d="M2059.3 794.7h9.3M2059.3 842.7h9.3" stroke="#0d0a09" stroke-width="4.0" fill="none"/>
<path d="M2171.8 795.7V877.6" stroke="#0d0a09" stroke-width="4.4" fill="none"/>
<path d="M2167.2 795.7h9.3M2167.2 877.6h9.3" stroke="#0d0a09" stroke-width="4.0" fill="none"/>
<path d="M2279.5 836.9V900.0" stroke="#0d0a09" stroke-width="4.4" fill="none"/>
<path d="M2274.8 836.9h9.3M2274.8 900.0h9.3" stroke="#0d0a09" stroke-width="4.0" fill="none"/>
<path d="M2387.3 839.9V931.6" stroke="#0d0a09" stroke-width="4.4" fill="none"/>
<path d="M2382.7 839.9h9.3M2382.7 931.6h9.3" stroke="#0d0a09" stroke-width="4.0" fill="none"/>
<polyline points="1956.5,805.6 2064.0,819.2 2171.8,837.2 2279.5,868.6 2387.3,885.8" fill="none" stroke="#0d0a09" stroke-width="4.1" stroke-linejoin="round"/>
<path d="M1947.6 805.6h17.8M1956.5 796.7v17.8M1949.7 799.9l13.6 11.4M1949.7 811.3l13.6 -11.4" stroke="#0d0a09" stroke-width="3.8" fill="none"/>
<path d="M2055.1 819.2h17.8M2064.0 810.3v17.8M2057.2 813.5l13.6 11.4M2057.2 824.9l13.6 -11.4" stroke="#0d0a09" stroke-width="3.8" fill="none"/>
<path d="M2162.9 837.2h17.8M2171.8 828.3v17.8M2165.0 831.5l13.6 11.4M2165.0 842.9l13.6 -11.4" stroke="#0d0a09" stroke-width="3.8" fill="none"/>
<path d="M2270.6 868.6h17.8M2279.5 859.7v17.8M2272.7 862.9l13.6 11.4M2272.7 874.3l13.6 -11.4" stroke="#0d0a09" stroke-width="3.8" fill="none"/>
<path d="M2378.4 885.8h17.8M2387.3 876.9v17.8M2380.5 880.1l13.6 11.4M2380.5 891.5l13.6 -11.4" stroke="#0d0a09" stroke-width="3.8" fill="none"/>
</svg>
</body></html>
